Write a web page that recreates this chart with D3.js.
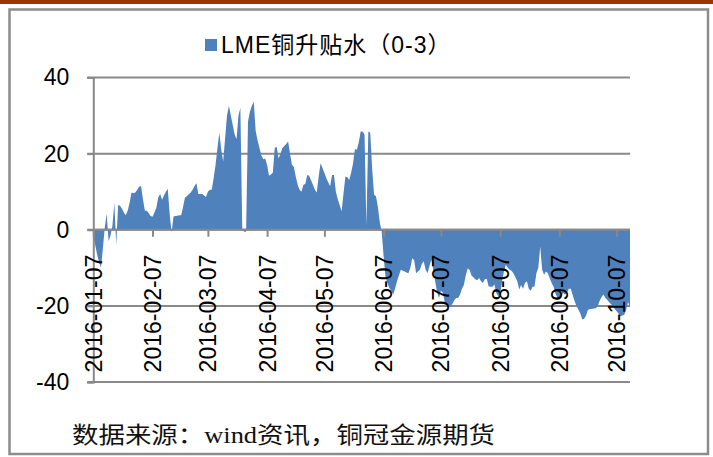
<!DOCTYPE html>
<html>
<head>
<meta charset="utf-8">
<script src="https://cdn.jsdelivr.net/npm/d3@7"></script>
<style>
  html, body { margin: 0; padding: 0; background: #fff; }
  svg { display: block; }
</style>
</head>
<body>
<svg id="chart" width="713" height="457"></svg>
<script>
// LME copper 0-3 month spread (contango/backwardation), daily readings 2016-01-07 .. 2016-10-14
const firstDay = "2016-01-07";
const jan = [-1.5,-4,-6.5,-8.5,-10, -5,0.5,4.2,-3,-1.5, 1,7,-4,6.5,6.3, 5.5,4.5,3.8,5,7, 9.8,9.6,9.8,10.5,11.3];
const feb = [11.5,8,5,5,4.4, 3.6,3.4,4.5,5.7,8.5, 9.4,7.9,9,10,10.7, 4,-0.7,3.5,3.6,3.7, 3.8,3.8,6,8.5,8.8, 9.3,9.8,10.5,11.5];
const mar = [12.2,9.4,9.4,9.4,9, 8.6,10,10.5,10.5,13.5, 17,21.5,25.5,21,17.9, 24,30,32.6,30,27.5, 25,23.8,30,32,0, -0.5,-0.5,28.4,31,32.5, 33.7];
const apr = [26,23.5,21.5,19.5,18.5, 18.7,17,14.2,14.5,15, 21.5,21.8,18.7,20,21.5, 22,22.5,23.2,20,17.1, 16.5,14,11.8,10.5,10, 11.8,12,14.4,14.2,13];
const may = [11.8,10.5,9.8,14,17.5, 16.2,14.9,13.5,12.5,11.4, 14.4,14.4,10,8,6.5, 4.8,9.5,14,13.8,13.1, 15,17.5,21.2,21,23, 25.8,25.8,25,1,25.8, 25.5];
const jun = [16,9.2,8.8,6,2, -0.5,-7,-12.5,-14,-15.3, -16,-17,-15.5,-13.5,-12, -10.5,-10.8,-11,-11.2,-11.4, -10,-7.5,-8,-11.4,-11, -10.5,-9,-8.3,-10.5,-11.4];
const jul = [-9.5,-7.9,-10.5,-13.5,-16.5, -17.9,-16,-16.5,-19,-20.2, -20.3,-20.1,-19.5,-18.5,-17.9, -17.9,-17,-15.5,-14.5,-12, -10.2,-10.5,-12,-12.5,-13, -13.3,-12.7,-13.5,-14,-13, -12.9];
const aug = [-14.9,-15,-15,-14.4,-16.6, -17.5,-17,-13.5,-11,-9.2, -10,-10.5,-10.8,-11.5,-12.5, -13.5,-15.7,-14.5,-15.5,-14, -13.5,-15.5,-16,-15,-14.9, -11.4,-10,-4.4,-10.5,-11.8, -11];
const sep = [-11.4,-12.8,-14,-15,-16.8, -17.8,-18.4,-17.5,-16.6,-17, -16.5,-15.5,-15.5,-17.2,-18.8, -20,-21,-22,-23.6,-23.4, -22.5,-21,-20.8,-20.8,-20.7, -20.6,-20.2,-18.8,-17.8,-17];
const oct = [-17.8,-18.4,-19,-19.5,-20, -20.8,-21.4,-22,-22.8,-22.5, -22.3,-21,-19,-20.5];

const xTickLabels = ["2016-01-07","2016-02-07","2016-03-07","2016-04-07","2016-05-07",
                     "2016-06-07","2016-07-07","2016-08-07","2016-09-07","2016-10-07"];
const yTickValues = [-40, -20, 0, 20, 40];
const seriesName = "LME铜升贴水（0-3）";
const sourceNote = "数据来源：wind资讯，铜冠金源期货";

const parse = d3.timeParse("%Y-%m-%d");
const values = [].concat(jan, feb, mar, apr, may, jun, jul, aug, sep, oct);
const start = parse(firstDay);
const days = d3.timeDay.range(start, d3.timeDay.offset(start, values.length));
const data = days.map((d, i) => ({ date: d, value: values[i] }));

const svg = d3.select("#chart");
const fill = "#4F81BD";
const gridColor = "#898989";

// page frame
svg.append("rect").attr("x", 0).attr("y", 0).attr("width", 713).attr("height", 4).attr("fill", "#9b3500");
svg.append("rect").attr("x", 9.5).attr("y", 9.5).attr("width", 698.5).attr("height", 444.5)
   .attr("fill", "none").attr("stroke", "#8c8c8c").attr("stroke-width", 2.5);

const plot = { left: 93.3, right: 630, top: 77.5, bottom: 382 };

const x = d3.scaleTime()
  .domain([days[0], days[days.length - 1]])
  .range([plot.left, plot.right]);
const y = d3.scaleLinear().domain([-40, 40]).range([plot.bottom, plot.top]);

// horizontal gridlines
svg.append("g").selectAll("line").data(yTickValues).join("line")
  .attr("x1", plot.left - 6).attr("x2", plot.right)
  .attr("y1", d => y(d)).attr("y2", d => y(d))
  .attr("stroke", gridColor).attr("stroke-width", 2);

// area between zero and the spread
const area = d3.area()
  .x(d => x(d.date))
  .y0(y(0))
  .y1(d => y(d.value));
svg.append("path").datum(data).attr("d", area).attr("fill", fill);

// y axis
const yAxis = d3.axisLeft(y).tickValues(yTickValues).tickSize(6).tickPadding(18)
  .tickFormat(d => String(d));
const gy = svg.append("g").attr("transform", `translate(${plot.left},0)`).call(yAxis);
gy.select(".domain").attr("stroke", gridColor).attr("stroke-width", 2);
gy.selectAll(".tick line").attr("stroke", gridColor).attr("stroke-width", 2);
gy.selectAll(".tick text")
  .attr("font-family", "'Liberation Sans', Arial, sans-serif")
  .attr("font-size", 23).attr("fill", "#000");

// x axis along zero
const tickDates = xTickLabels.map(parse);
const xAxis = d3.axisBottom(x).tickValues(tickDates).tickSize(7)
  .tickFormat((d, i) => xTickLabels[i]);
const gx = svg.append("g").attr("transform", `translate(0,${y(0)})`).call(xAxis);
gx.select(".domain").remove();
gx.append("line").attr("x1", plot.left).attr("x2", plot.right).attr("y1", 0).attr("y2", 0)
  .attr("stroke", gridColor).attr("stroke-width", 2);
gx.selectAll(".tick line").attr("stroke", gridColor).attr("stroke-width", 2);
gx.selectAll(".tick text")
  .attr("font-family", "'Liberation Sans', Arial, sans-serif")
  .attr("font-size", 23).attr("fill", "#000")
  .attr("transform", "rotate(-90)")
  .attr("x", -25).attr("y", 0).attr("dy", "0.35em")
  .style("text-anchor", "end");

// legend
svg.append("rect").attr("x", 205).attr("y", 39).attr("width", 12).attr("height", 12).attr("fill", fill);
svg.append("text").attr("x", 221).attr("y", 53)
  .attr("font-family", "'Liberation Sans', 'Noto Sans CJK SC', sans-serif")
  .attr("font-size", 23).attr("fill", "#000")
  .attr("letter-spacing", 1)
  .text(seriesName);

// source note
svg.append("text").attr("x", 72).attr("y", 443)
  .attr("font-family", "'Liberation Serif', 'Noto Sans CJK SC', serif")
  .attr("font-size", 23).attr("fill", "#111")
  .attr("textLength", 423).attr("lengthAdjust", "spacingAndGlyphs")
  .text(sourceNote);
</script>
</body>
</html>
